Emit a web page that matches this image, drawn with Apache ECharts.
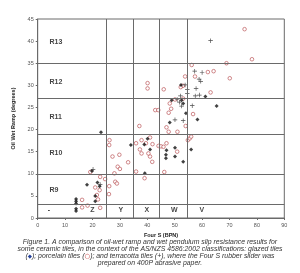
<!DOCTYPE html>
<html>
<head>
<meta charset="utf-8">
<script src="https://cdn.jsdelivr.net/npm/echarts@6/dist/echarts.min.js"></script>
<style>
  html, body { margin: 0; padding: 0; background: #fff; }
  #main { width: 300px; height: 273px; }
</style>
</head>
<body>
<div id="main"></div>
<script>
// glazed tiles [Four S BPN, oil-wet ramp degrees]
var glazed = [
  [14, 4.3], [14, 3.8], [14, 3.3], [14, 2.1], [14, 1.6],
  [18, 7.5], [21, 5.0], [21, 3.8], [21.8, 8.0], [22.6, 7.2], [19.8, 10.6], [23.1, 19.4], [34, 16.5],
  [38.9, 16.6], [40.1, 17.9], [41, 15.5], [39.1, 10.1],
  [47, 15.3], [46.8, 14.3], [46.8, 13.5], [50.1, 15.9], [50.1, 13.9], [53.1, 12.7], [56, 15.5],
  [48.2, 21.6], [54.1, 23.7], [58.3, 22.3], [48.9, 26.6], [52.5, 26.6], [53.1, 25.9],
  [52.3, 30.1], [61.2, 27.5], [65.3, 25.3]
];
// porcelain tiles
var porcelain = [
  [16.2, 4.1], [16.2, 2.4], [18.2, 2.8], [21, 6.9], [21.6, 5.2], [22, 4.2], [22.8, 2.3], [22.6, 6.3],
  [22.8, 9.3], [19.2, 10.4], [24.6, 8.8], [26.1, 7.2], [26, 5.4], [28.3, 8.2], [28.9, 7.8], [28, 10.1],
  [26.2, 17.6], [26.1, 16.5], [27.3, 13.9], [29.8, 14.3], [29.2, 11.6], [30, 11.1], [33, 12.6],
  [35.9, 16.9], [35.9, 10.5], [37.3, 15.5], [37.9, 17.6], [39, 9], [37.9, 14.6], [37.1, 20.8],
  [39.5, 16.9], [41, 18.2], [41.9, 16.7], [41, 13.9], [41.8, 12.7], [40.4, 14.6],
  [42.9, 24.4], [44, 24.4], [40.1, 30.5], [40.1, 29.3],
  [44.1, 16.3], [45, 16.2], [45.9, 16.1], [47, 16.9], [47, 20.5], [47.8, 19.5], [51, 19.5],
  [47.8, 23.8], [48.2, 25.9], [48.7, 24.7], [46.2, 10.4], [50.9, 15], [46, 29.1], [53, 29.9],
  [52.2, 29.6], [53.8, 32], [53.1, 27], [50.1, 26.8], [54, 20.8],
  [54.8, 17.6], [55.5, 18], [56, 18.4], [56.7, 23.5], [56.2, 34.6], [57.4, 32], [62.1, 33],
  [64.2, 33.2], [63.1, 28.4], [68.9, 35], [70.1, 31.6], [75.5, 42.7], [78.2, 35.9]
];
// terracotta tiles
var terracotta = [
  [63.1, 40.1], [57.3, 33.2], [60, 32.9], [58.9, 31.4], [59.5, 30.9], [57.8, 29.3], [54.6, 29.1],
  [53.8, 30.1], [54.6, 28.2], [57.5, 27.6], [59, 27.8], [50.9, 26.8], [52.1, 27.6], [51.7, 26.2],
  [52.5, 25.3], [56.4, 25.4], [50.1, 22.2], [53.1, 22], [22.8, 7.6], [20.2, 11]
];

// classification boundaries
var rampBounds = [3, 10, 19, 27, 35];
var pendBounds = [25, 35, 44.5, 54.5];
var rampClasses = ['R13', 'R12', 'R11', 'R10', 'R9'];
var rampLabelY = [39.8, 30.8, 22.9, 14.6, 6.3];
var pendClasses = ['-', 'Z', 'Y', 'X', 'W', 'V'];
var pendLabelX = [4.1, 20, 30.3, 39.8, 49.9, 59.9];

var xTicks = [0, 90, 10];
var yTicks = [0, 45, 5];

var lineStyle = { color: '#6a6a6a', width: 1, type: 'solid' };
var marks = rampBounds.map(function (v) { return { yAxis: v }; })
  .concat(pendBounds.map(function (v) { return { xAxis: v }; }));

var rampLabels = rampClasses.map(function (n, i) { return { name: n, value: [4.3, rampLabelY[i]] }; });
var pendLabels = pendClasses.map(function (n, i) { return { name: n, value: [pendLabelX[i], 1.8] }; });

var myChart = echarts.init(document.getElementById('main'));
var option = {
  animation: false,
  backgroundColor: '#fff',
  title: {
    text: 'Figure 1. A comparison of oil-wet ramp and wet pendulum slip resistance results for\n' +
      'some ceramic tiles, in the context of the AS/NZS 4586:2002 classifications: glazed tiles\n' +
      '({g|◆}); porcelain tiles ({p|○}); and terracotta tiles (+), where the Four S rubber slider was\n' +
      'prepared on 400P abrasive paper.',
    left: 'center',
    top: 239,
    padding: 0,
    textStyle: {
      fontFamily: 'Liberation Sans',
      fontSize: 6.9,
      fontStyle: 'italic',
      fontWeight: 'normal',
      lineHeight: 7,
      color: '#333',
      rich: {
        g: { fontFamily: 'DejaVu Sans', fontSize: 5.5, color: '#23409a' },
        p: { fontFamily: 'DejaVu Sans', fontSize: 6.5, color: '#c03030' }
      }
    }
  },
  grid: {
    left: 37.7, right: 15.7, top: 19, bottom: 55,
    show: true, borderColor: '#6a6a6a', borderWidth: 1
  },
  xAxis: {
    type: 'value', min: xTicks[0], max: xTicks[1], interval: xTicks[2],
    name: 'Four S (BPN)', nameLocation: 'middle', nameGap: 12,
    nameTextStyle: { fontFamily: 'Liberation Sans', fontSize: 5.5, fontWeight: 'bold', color: '#222' },
    axisLine: { show: true, lineStyle: { color: '#6a6a6a' } },
    axisTick: { show: true, length: 2, lineStyle: { color: '#6a6a6a' } },
    axisLabel: { fontFamily: 'Liberation Sans', fontSize: 5.5, color: '#555', margin: 4 },
    splitLine: { show: false }
  },
  yAxis: {
    type: 'value', min: yTicks[0], max: yTicks[1], interval: yTicks[2],
    name: 'Oil Wet Ramp (degrees)', nameLocation: 'middle', nameGap: 15,
    nameTextStyle: { fontFamily: 'Liberation Sans', fontSize: 5.5, fontWeight: 'bold', color: '#222' },
    axisLine: { show: true, lineStyle: { color: '#6a6a6a' } },
    axisTick: { show: true, length: 2, lineStyle: { color: '#6a6a6a' } },
    axisLabel: { fontFamily: 'Liberation Sans', fontSize: 5.5, color: '#555', margin: 4 },
    splitLine: { show: false }
  },
  series: [
    {
      name: 'bounds', type: 'scatter', data: [], silent: true,
      markLine: { symbol: 'none', silent: true, label: { show: false }, lineStyle: lineStyle, data: marks }
    },
    {
      name: 'ramp classes', type: 'scatter', data: rampLabels, symbolSize: 0, silent: true,
      label: { show: true, position: 'right', distance: 0, formatter: '{b}',
        fontFamily: 'Liberation Sans', fontSize: 7, fontWeight: 'bold', color: '#111' }
    },
    {
      name: 'pendulum classes', type: 'scatter', data: pendLabels, symbolSize: 0, silent: true,
      label: { show: true, position: 'inside', formatter: '{b}',
        fontFamily: 'Liberation Sans', fontSize: 7, fontWeight: 'bold', color: '#111' }
    },
    {
      name: 'porcelain', type: 'scatter', data: porcelain, symbol: 'circle', symbolSize: 3.6,
      itemStyle: { color: '#fff', borderColor: '#b5474a', borderWidth: 0.8 }
    },
    {
      name: 'glazed', type: 'scatter', data: glazed, symbol: 'diamond', symbolSize: 4,
      itemStyle: { color: '#111' }
    },
    {
      name: 'terracotta', type: 'scatter', data: terracotta,
      symbol: 'path://M-0.6,-4H0.6V-0.6H4V0.6H0.6V4H-0.6V0.6H-4V-0.6H-0.6Z', symbolSize: 4.5,
      itemStyle: { color: '#222' }
    }
  ]
};
myChart.setOption(option);
</script>
</body>
</html>
